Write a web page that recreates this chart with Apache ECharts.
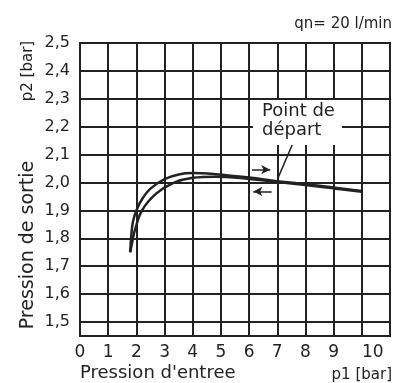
<!DOCTYPE html>
<html>
<head>
<meta charset="utf-8">
<script src="https://cdn.jsdelivr.net/npm/echarts@6/dist/echarts.min.js"></script>
<style>
  html, body { margin: 0; padding: 0; background: #fff; }
  #chart { width: 393px; height: 383px; }
</style>
</head>
<body>
<div id="chart"></div>
<script>
// p1 [bar] -> p2 [bar]
const upperCurve = [
  [1.78, 1.75], [1.82, 1.81], [1.88, 1.86], [2.0, 1.9], [2.2, 1.94], [2.5, 1.978],
  [3.0, 2.012], [3.5, 2.029], [4.0, 2.034], [4.8, 2.03], [6.0, 2.018],
  [7.0, 2.005], [8.0, 1.994], [9.0, 1.982], [10.0, 1.97]
];
const lowerCurve = [
  [1.78, 1.75], [1.86, 1.79], [1.95, 1.83], [2.2, 1.9], [2.7, 1.96],
  [3.3, 1.998], [4.0, 2.017], [4.8, 2.021], [6.0, 2.013],
  [7.0, 2.002], [8.0, 1.991], [9.0, 1.979], [10.0, 1.967]
];
const yTicks = [1.5, 1.6, 1.7, 1.8, 1.9, 2.0, 2.1, 2.2, 2.3, 2.4, 2.5];
const arrowRight = [[6.1, 2.046], [6.75, 2.046]];
const arrowLeft = [[6.8, 1.968], [6.15, 1.968]];
const leader = [[7.55, 2.14], [7.02, 2.015]];

const ink = '#222';
const font = 'DejaVu Sans';

function initChart() {
  const chartDom = document.getElementById('chart');
  const chart = echarts.init(chartDom);

  const curveStyle = { color: ink, width: 2.5 };

  const option = {
    animation: false,
    backgroundColor: '#fff',
    grid: {
      left: 80, right: 1, top: 43, bottom: 47,
      show: true, borderColor: ink, borderWidth: 2, backgroundColor: 'transparent'
    },
    xAxis: {
      type: 'value',
      min: 0, max: 11, interval: 1,
      axisLine: { show: true, lineStyle: { color: ink, width: 2 } },
      axisTick: { show: false },
      splitLine: { show: true, lineStyle: { color: ink, width: 2 } },
      axisLabel: {
        margin: 8,
        color: ink, fontFamily: font, fontSize: 17,
        formatter: function (v) {
          if (v === 11) return '';
          if (v === 10) return '{s|10}';
          return String(v);
        },
        rich: { s: { fontFamily: font, fontSize: 17, color: ink, padding: [0, 0, 0, 22] } }
      }
    },
    yAxis: {
      type: 'value',
      min: 1.45, max: 2.5,
      axisLine: { show: true, lineStyle: { color: ink, width: 2 } },
      axisTick: { show: false, customValues: yTicks },
      splitLine: { show: true, lineStyle: { color: ink, width: 2 } },
      axisLabel: {
        customValues: yTicks,
        margin: 10,
        color: ink, fontFamily: font, fontSize: 16,
        formatter: function (v) { return v.toFixed(1).replace('.', ','); }
      }
    },
    series: [
      {
        type: 'line', data: upperCurve, smooth: 0.4, showSymbol: false,
        lineStyle: curveStyle, z: 5,
        markLine: {
          silent: true,
          symbol: ['none', 'arrow'], symbolSize: [7, 9],
          label: { show: false },
          lineStyle: { color: ink, width: 1.5, type: 'solid' },
          data: [
            [{ coord: arrowRight[0] }, { coord: arrowRight[1] }],
            [{ coord: arrowLeft[0] }, { coord: arrowLeft[1] }],
            [{ coord: leader[0], symbol: 'none' }, { coord: leader[1], symbol: 'none' }]
          ]
        }
      },
      {
        type: 'line', data: lowerCurve, smooth: 0.4, showSymbol: false,
        lineStyle: curveStyle, z: 5
      }
    ],
    graphic: [
      {
        type: 'text', x: 392, y: 24, z: 20,
        style: { text: 'qn= 20 l/min', font: '15px ' + font, fill: ink, textAlign: 'right', textVerticalAlign: 'middle' }
      },
      {
        type: 'text', x: 253, y: 100, z: 20,
        style: {
          text: 'Point de\ndépart', font: '18px ' + font, fill: ink, lineHeight: 19,
          backgroundColor: '#fff', padding: [2, 7, 5, 9]
        }
      },
      {
        type: 'text', x: 28, y: 245, rotation: Math.PI / 2, z: 20,
        style: { text: 'Pression de sortie', font: '19px ' + font, fill: ink, textAlign: 'center', textVerticalAlign: 'middle' }
      },
      {
        type: 'text', x: 28, y: 71, rotation: Math.PI / 2, z: 20,
        style: { text: 'p2 [bar]', font: '15px ' + font, fill: ink, textAlign: 'center', textVerticalAlign: 'middle' }
      },
      {
        type: 'text', x: 80, y: 373, z: 20,
        style: { text: "Pression d'entree", font: '18px ' + font, fill: ink, textAlign: 'left', textVerticalAlign: 'middle' }
      },
      {
        type: 'text', x: 392, y: 375, z: 20,
        style: { text: 'p1 [bar]', font: '15px ' + font, fill: ink, textAlign: 'right', textVerticalAlign: 'middle' }
      }
    ]
  };

  chart.setOption(option);
  window.addEventListener('resize', chart.resize);
}

document.addEventListener('DOMContentLoaded', initChart);
</script>
</body>
</html>
